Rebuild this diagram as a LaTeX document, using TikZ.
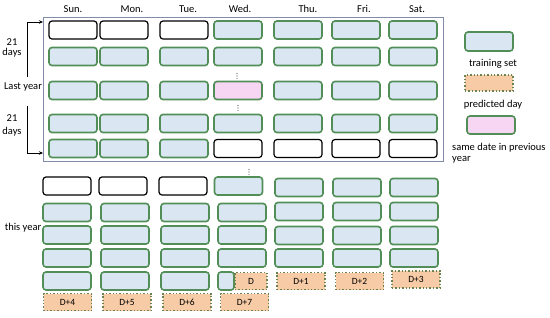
\documentclass[tikz,border=0pt]{standalone}
\usepackage{fontspec}
\setmainfont{Carlito}
\usetikzlibrary{arrows.meta}
\definecolor{gbord}{RGB}{82,142,88}
\definecolor{tfill}{RGB}{218,231,242}
\definecolor{pfill}{RGB}{246,203,166}
\definecolor{pbord}{RGB}{105,130,78}
\definecolor{sfill}{RGB}{246,214,242}
\definecolor{frm}{RGB}{128,140,170}
\tikzset{
  trainbox/.style={draw=gbord, fill=tfill, line width=1.6pt, rounded corners=3pt, minimum width=48pt, minimum height=18pt, inner sep=0pt},
  emptybox/.style={draw=black, fill=white, line width=1.2pt, rounded corners=3pt, minimum width=48pt, minimum height=18pt, inner sep=0pt},
  samebox/.style={trainbox, fill=sfill},
  predbox/.style={draw=pbord, fill=pfill, line width=1.4pt, dotted, minimum width=48pt, minimum height=17pt, inner sep=0pt, font=\fontsize{9.5}{11}\selectfont},
  lbl/.style={font=\fontsize{10.5}{12}\selectfont, inner sep=0pt},
  dotv/.style={fill=black!70, draw=none, circle, inner sep=0pt, minimum size=1.2pt}
}
\newcommand\vdotsat[2]{%
  \node[dotv] at (#1,#2-2.6) {};\node[dotv] at (#1,#2) {};\node[dotv] at (#1,#2+2.6) {};}
\begin{document}
\begin{tikzpicture}[x=1pt,y=-1pt]
\useasboundingbox (0,0) rectangle (550,317);
% headers
\node[lbl] (hsun) at (73,9) {Sun.};
\node[lbl] (hmon) at (132,9) {Mon.};
\node[lbl] (htue) at (188,9) {Tue.};
\node[lbl] (hwed) at (240,9) {Wed.};
\node[lbl] (hthu) at (308,9) {Thu.};
\node[lbl] (hfri) at (364,9) {Fri.};
\node[lbl] (hsat) at (417,9) {Sat.};
% frame
\draw[frm, line width=0.8pt] (43,17) rectangle (443,161);
% last year rows
\foreach \r/\y in {1/30,2/56.5,3/90.5,4/123.5,5/148.5}{
  \foreach \c/\x in {sun/73,mon/124,tue/184,wed/238,thu/298,fri/356,sat/413}{
    \pgfmathtruncatemacro\isempty{(\r==1 && \x<200) || (\r==5 && \x>200) ? 1 : 0}
    \pgfmathtruncatemacro\issame{(\r==3 && \x==238) ? 1 : 0}
    \ifnum\isempty=1
      \node[emptybox] (L\r\c) at (\x,\y) {};
    \else\ifnum\issame=1
      \node[samebox] (L\r\c) at (\x,\y) {};
    \else
      \node[trainbox] (L\r\c) at (\x,\y) {};
    \fi\fi
  }
}
% dots
\vdotsat{237}{76}
\vdotsat{238}{108}
\vdotsat{249}{172}
% left annotations
\node[lbl] (d1a) at (12,42) {21};
\node[lbl] (d1b) at (12,53) {days};
\node[lbl] (ly) at (23,87) {Last year};
\node[lbl] (d2a) at (12,118) {21};
\node[lbl] (d2b) at (12,132) {days};
\coordinate (u0) at (27,77);
\coordinate (u1) at (43,22);
\coordinate (w0) at (27,106);
\coordinate (w1) at (43,153);
\draw[line width=0.9pt, -{Stealth[length=4pt,width=3.5pt]}] (u0) |- (u1);
\draw[line width=0.9pt, -{Stealth[length=4pt,width=3.5pt]}] (w0) |- (w1);
% this year
\node[lbl] (ty) at (23,228) {this year};
\node[emptybox] (T1sun) at (67,186) {};
\node[emptybox] (T1mon) at (123,186) {};
\node[emptybox] (T1tue) at (183,186) {};
\node[trainbox] (T1wed) at (238.5,186) {};
\foreach \r/\y in {2/212.5,3/235,4/258,5/281}{
  \node[trainbox] (T\r sun) at (67,\y) {};
  \node[trainbox] (T\r mon) at (125,\y) {};
  \node[trainbox] (T\r tue) at (185,\y) {};
}
\foreach \r/\y in {2/212.5,3/235,4/258}{
  \node[trainbox] (T\r wed) at (242,\y) {};
}
\node[trainbox, minimum width=16pt] (T5wed) at (226,281) {};
\node[predbox, minimum width=32pt] (pD) at (251,281) {D};
\foreach \r/\y in {1/187.5,2/211.5,3/235.5,4/258}{
  \node[trainbox] (T\r thu) at (299,\y) {};
  \node[trainbox] (T\r fri) at (357,\y) {};
  \node[trainbox] (T\r sat) at (414,\y) {};
}
\node[predbox] (p1) at (301,281) {D+1};
\node[predbox] (p2) at (359.5,281) {D+2};
\node[predbox] (p3) at (416,279.5) {D+3};
\node[predbox] (p4) at (67.5,302) {D+4};
\node[predbox] (p5) at (127,302) {D+5};
\node[predbox] (p6) at (187,302) {D+6};
\node[predbox] (p7) at (244.5,302) {D+7};
% legend
\node[trainbox, minimum height=19pt] (lg1) at (489,41.5) {};
\node[lbl] (lt1) at (493,64) {training set};
\node[predbox, minimum height=16pt] (lg2) at (489,83) {};
\node[lbl] (lt2) at (493,105) {predicted day};
\node[samebox] (lg3) at (491,125) {};
\node[lbl, anchor=west] (lt3) at (452,148) {same date in previous};
\node[lbl, anchor=west] (lt4) at (452,160) {year};
\end{tikzpicture}
\end{document}
